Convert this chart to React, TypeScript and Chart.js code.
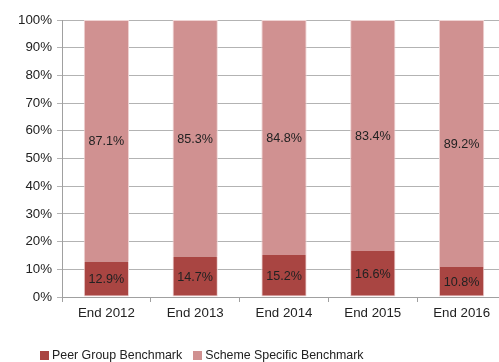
import React, { useEffect, useRef } from "react";
import { Chart, registerables } from "chart.js";

Chart.register(...registerables);

const categories = ["End 2012", "End 2013", "End 2014", "End 2015", "End 2016"];
const peerGroup = [12.9, 14.7, 15.2, 16.6, 10.8];
const schemeSpecific = [87.1, 85.3, 84.8, 83.4, 89.2];
const seriesNames = ["Peer Group Benchmark", "Scheme Specific Benchmark"];
const seriesColors = ["#A94542", "#D09191"];
const yTicks = [0, 10, 20, 30, 40, 50, 60, 70, 80, 90, 100];

const FONT = "'Liberation Sans', Arial, sans-serif";

const valueLabels = {
  id: "valueLabels",
  afterDatasetsDraw(chart: any) {
    const ctx = chart.ctx;
    ctx.save();
    ctx.font = `12.6px ${FONT}`;
    ctx.fillStyle = "#222222";
    ctx.textAlign = "center";
    ctx.textBaseline = "middle";
    chart.data.datasets.forEach((ds: any, di: number) => {
      const meta = chart.getDatasetMeta(di);
      meta.data.forEach((bar: any, i: number) => {
        const v = ds.data[i];
        ctx.fillText(v.toFixed(1) + "%", bar.x, (bar.y + bar.base) / 2 + 1);
      });
    });
    ctx.restore();
  },
};

export default function App() {
  const ref = useRef<HTMLCanvasElement | null>(null);

  useEffect(() => {
    if (!ref.current) return;
    const chart = new Chart(ref.current, {
      type: "bar",
      data: {
        labels: categories,
        datasets: [
          {
            label: seriesNames[0],
            data: peerGroup,
            backgroundColor: seriesColors[0],
            borderColor: "#EFD3D3",
            borderWidth: 1,
            borderSkipped: "middle",
          },
          {
            label: seriesNames[1],
            data: schemeSpecific,
            backgroundColor: seriesColors[1],
            borderColor: "#EFD3D3",
            borderWidth: 1,
            borderSkipped: "middle",
          },
        ],
      },
      options: {
        responsive: false,
        animation: false,
        layout: { padding: { top: 20, right: 2, bottom: 35, left: 0 } },
        datasets: { bar: { categoryPercentage: 0.51, barPercentage: 1 } },
        plugins: {
          legend: { display: false },
          tooltip: { enabled: false },
        },
        scales: {
          x: {
            stacked: true,
            offset: true,
            grid: {
              offset: true,
              drawOnChartArea: false,
              drawTicks: true,
              tickLength: 5,
              color: "#A0A0A0",
            },
            border: { color: "#A0A0A0" },
            ticks: {
              color: "#222222",
              font: { family: FONT, size: 13.3 },
              padding: 3,
            },
            afterFit: (s: any) => {
              s.height = 30;
            },
          },
          y: {
            stacked: true,
            min: 0,
            max: 100,
            afterBuildTicks: (s: any) => {
              s.ticks = yTicks.map((v) => ({ value: v }));
            },
            grid: {
              color: "#B3B3B3",
              tickLength: 5,
            },
            border: { color: "#A0A0A0" },
            ticks: {
              color: "#222222",
              font: { family: FONT, size: 13.3 },
              padding: 5,
              callback: (v: any) => v + "%",
            },
            afterFit: (s: any) => {
              s.width = 62;
            },
          },
        },
      },
      plugins: [valueLabels],
    });
    return () => chart.destroy();
  }, []);

  return (
    <div
      style={{
        position: "absolute",
        left: 0,
        top: 0,
        width: 499,
        height: 362,
        overflow: "hidden",
        background: "#ffffff",
      }}
    >
      <canvas ref={ref} width={508} height={362} style={{ display: "block" }} />
      <div
        style={{
          position: "absolute",
          left: 40,
          top: 346,
          height: 18,
          display: "flex",
          alignItems: "center",
          fontFamily: FONT,
          fontSize: "12.4px",
          color: "#222222",
          whiteSpace: "nowrap",
        }}
      >
        {seriesNames.map((name, i) => (
          <div
            key={name}
            style={{ display: "flex", alignItems: "center", marginRight: i === 0 ? 11 : 0 }}
          >
            <span
              style={{
                display: "inline-block",
                width: 9,
                height: 9,
                background: seriesColors[i],
                marginRight: 3,
              }}
            />
            <span>{name}</span>
          </div>
        ))}
      </div>
    </div>
  );
}
